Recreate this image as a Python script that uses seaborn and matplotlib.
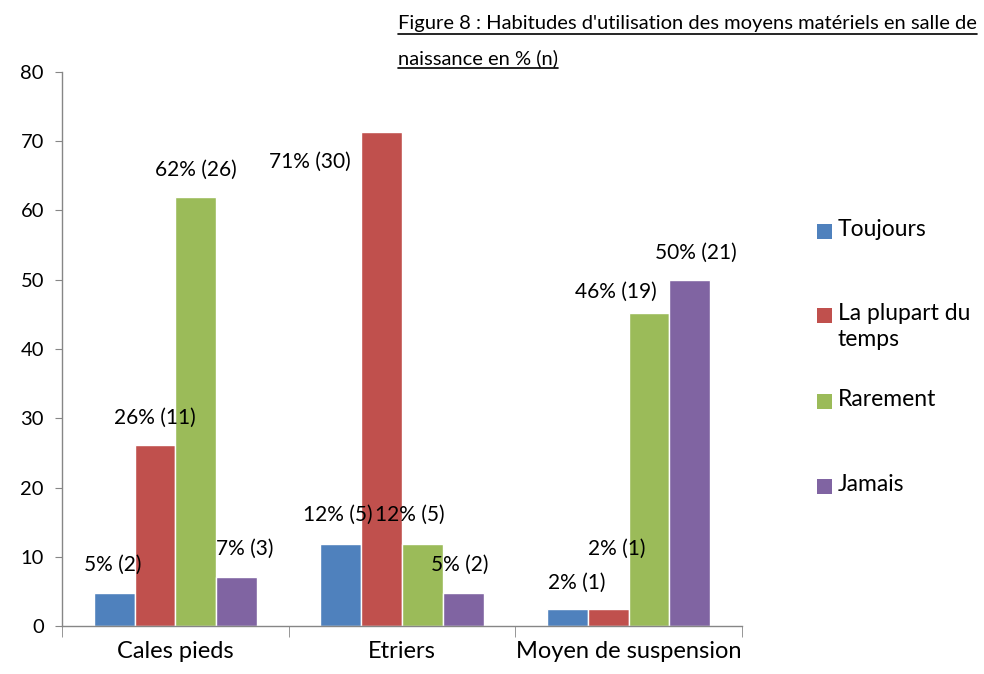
import matplotlib
matplotlib.use("Agg")
import matplotlib.pyplot as plt
from matplotlib.patches import Rectangle
import seaborn as sns
import pandas as pd

# Données
moyens = ["Cales pieds", "Etriers", "Moyen de suspension"]
frequences = ["Toujours", "La plupart du temps", "Rarement", "Jamais"]
toujours = [4.8, 11.9, 2.4]
plupart = [26.2, 71.4, 2.4]
rarement = [61.9, 11.9, 45.2]
jamais = [7.1, 4.8, 50.0]
pct_labels = [[5, 12, 2], [26, 71, 2], [62, 12, 46], [7, 5, 50]]
n_labels = [[2, 5, 1], [11, 30, 1], [26, 5, 19], [3, 2, 21]]

couleurs = ["#4F81BD", "#C0504D", "#9BBB59", "#8064A2"]
legende = ["Toujours", "La plupart du\ntemps", "Rarement", "Jamais"]

series = [toujours, plupart, rarement, jamais]
lignes = []
for freq, vals in zip(frequences, series):
    for m, v in zip(moyens, vals):
        lignes.append({"Moyen": m, "Fréquence": freq, "Pourcentage": v})
df = pd.DataFrame(lignes)

sns.set_style("white")
plt.rcParams["font.family"] = ["Lato", "DejaVu Sans"]
plt.rcParams["text.color"] = "black"
plt.rcParams["xtick.color"] = "black"
plt.rcParams["ytick.color"] = "black"

fig = plt.figure(figsize=(9.84, 6.74), dpi=100)
ax = fig.add_axes([0.063, 0.0712, 0.691, 0.822])

sns.barplot(data=df, x="Moyen", y="Pourcentage", hue="Fréquence",
            hue_order=frequences, palette=couleurs, width=0.72,
            saturation=1, legend=False, ax=ax)

ax.set_xlim(-0.5, 2.5)
ax.set_ylim(0, 80)
ax.set_yticks(range(0, 81, 10))
ax.set_xlabel("")
ax.set_ylabel("")
for s in ["top", "right"]:
    ax.spines[s].set_visible(False)
for s in ["left", "bottom"]:
    ax.spines[s].set_color("#868686")
    ax.spines[s].set_linewidth(1)

ax.tick_params(axis="y", which="major", length=5, color="#868686",
               labelcolor="black", labelsize=14.5, pad=8, left=True)
ax.tick_params(axis="x", which="major", length=0, labelcolor="black",
               labelsize=17, pad=11)
ax.set_xticks([-0.5, 0.5, 1.5, 2.5], minor=True)
ax.tick_params(axis="x", which="minor", length=8, color="#868686", bottom=True)

# décalages des étiquettes (pixels) comme sur l'original
decalages = [
    [(-1, 28), (-3, 29), (9, 27)],
    [(0, 27), (-72, -30), (9, 61)],
    [(0, 27), (-13, 29), (-33, 21)],
    [(8, 28), (-3, 28), (6, 27)],
]
for i, cont in enumerate(ax.containers):
    for j, bar in enumerate(cont):
        x = bar.get_x() + bar.get_width() / 2
        h = bar.get_height()
        dx, dy = decalages[i][j]
        ax.annotate(f"{pct_labels[i][j]}% ({n_labels[i][j]})", (x, h),
                    xytext=(dx, dy), textcoords="offset pixels",
                    ha="center", va="center", fontsize=15, color="black")

# titre souligné
titre = ["Figure 8 : Habitudes d'utilisation des moyens matériels en salle de",
         "naissance en % (n)"]
fig.canvas.draw()
r = fig.canvas.get_renderer()
for k, ligne in enumerate(titre):
    t = fig.text(398 / 984, 1 - (24 + 34 * k) / 674, ligne, ha="left",
                 va="center", fontsize=14.5)
    bb = t.get_window_extent(renderer=r).transformed(fig.transFigure.inverted())
    fig.add_artist(plt.Line2D([bb.x0, bb.x1], [bb.y0 - 0.002, bb.y0 - 0.002],
                              transform=fig.transFigure, color="black", lw=1.2))

# légende
pos_y = [232, 316, 402, 487]
for c, lab, y in zip(couleurs, legende, pos_y):
    fig.add_artist(Rectangle((817 / 984, 1 - (y + 7) / 674), 15 / 984, 15 / 674,
                             transform=fig.transFigure, facecolor=c, edgecolor="none"))
    fig.text(838 / 984, 1 - (y - 13) / 674, lab, ha="left", va="top",
             fontsize=16.5, linespacing=1.3)

fig.savefig("out.png", dpi=100)
